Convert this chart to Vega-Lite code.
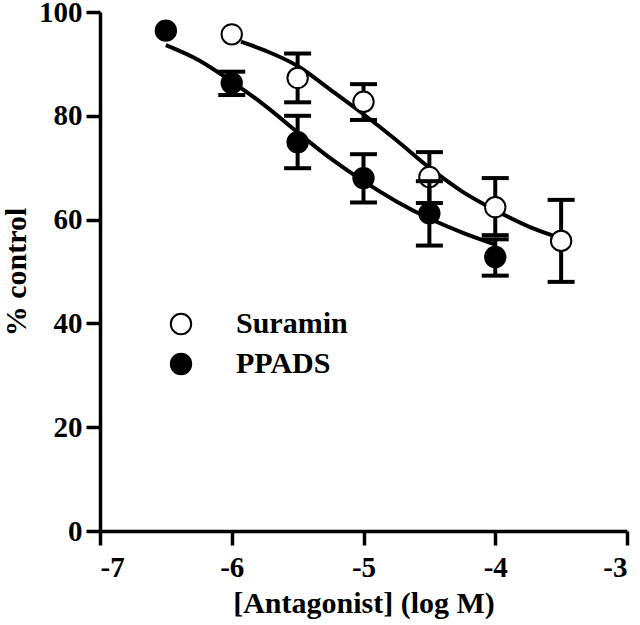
{
  "$schema": "https://vega.github.io/schema/vega-lite/v6.json",
  "width": 527,
  "height": 519,
  "autosize": "none",
  "padding": {"left": 100, "top": 12, "right": 13, "bottom": 94},
  "background": "white",
  "config": {
    "view": {"stroke": null},
    "font": "Liberation Serif",
    "axis": {
      "domainColor": "black", "domainWidth": 3.5, "tickColor": "black", "tickWidth": 3.5, "tickSize": 14,
      "labelFont": "Liberation Serif", "labelFontWeight": "bold", "labelFontSize": 29, "labelColor": "black",
      "titleFont": "Liberation Serif", "titleFontWeight": "bold", "titleFontSize": 30, "titleColor": "black",
      "grid": false
    },
    "legend": {
      "labelFont": "Liberation Serif", "labelFontWeight": "bold", "labelFontSize": 30, "labelColor": "black",
      "symbolType": "circle", "symbolSize": 415, "symbolStrokeColor": "black", "symbolStrokeWidth": 2,
      "padding": 0, "rowPadding": 10, "labelOffset": 40
    }
  },
  "datasets": {
    "pts": [
      {"conc": -6.0, "resp": 95.7, "lo": null, "hi": null, "series": "Suramin"},
      {"conc": -5.5, "resp": 87.3, "lo": 82.6, "hi": 92.0, "series": "Suramin"},
      {"conc": -5.0, "resp": 82.7, "lo": 79.2, "hi": 86.1, "series": "Suramin"},
      {"conc": -4.5, "resp": 68.2, "lo": 63.2, "hi": 73.0, "series": "Suramin"},
      {"conc": -4.0, "resp": 62.4, "lo": 57.0, "hi": 68.0, "series": "Suramin"},
      {"conc": -3.5, "resp": 55.9, "lo": 48.0, "hi": 63.8, "series": "Suramin"},
      {"conc": -6.5, "resp": 96.4, "lo": null, "hi": null, "series": "PPADS"},
      {"conc": -6.0, "resp": 86.3, "lo": 84.0, "hi": 88.5, "series": "PPADS"},
      {"conc": -5.5, "resp": 74.9, "lo": 69.9, "hi": 80.0, "series": "PPADS"},
      {"conc": -5.0, "resp": 68.0, "lo": 63.3, "hi": 72.6, "series": "PPADS"},
      {"conc": -4.5, "resp": 61.2, "lo": 55.0, "hi": 67.4, "series": "PPADS"},
      {"conc": -4.0, "resp": 52.8, "lo": 49.2, "hi": 56.2, "series": "PPADS"}
    ],
    "curves": [
      {"conc": -5.93, "resp": 94.3, "series": "Suramin"},
      {"conc": -5.75, "resp": 92.6, "series": "Suramin"},
      {"conc": -5.5, "resp": 89.6, "series": "Suramin"},
      {"conc": -5.25, "resp": 85.0, "series": "Suramin"},
      {"conc": -5.0, "resp": 80.3, "series": "Suramin"},
      {"conc": -4.75, "resp": 75.3, "series": "Suramin"},
      {"conc": -4.5, "resp": 70.0, "series": "Suramin"},
      {"conc": -4.25, "resp": 65.4, "series": "Suramin"},
      {"conc": -4.0, "resp": 61.8, "series": "Suramin"},
      {"conc": -3.75, "resp": 58.7, "series": "Suramin"},
      {"conc": -3.55, "resp": 56.8, "series": "Suramin"},
      {"conc": -6.5, "resp": 93.6, "series": "PPADS"},
      {"conc": -6.25, "resp": 90.7, "series": "PPADS"},
      {"conc": -6.0, "resp": 86.6, "series": "PPADS"},
      {"conc": -5.75, "resp": 82.0, "series": "PPADS"},
      {"conc": -5.5, "resp": 76.8, "series": "PPADS"},
      {"conc": -5.25, "resp": 71.8, "series": "PPADS"},
      {"conc": -5.0, "resp": 67.4, "series": "PPADS"},
      {"conc": -4.75, "resp": 63.5, "series": "PPADS"},
      {"conc": -4.5, "resp": 60.2, "series": "PPADS"},
      {"conc": -4.25, "resp": 57.5, "series": "PPADS"},
      {"conc": -4.0, "resp": 55.2, "series": "PPADS"}
    ]
  },
  "encoding": {
    "x": {"field": "conc", "type": "quantitative",
      "scale": {"domain": [-7, -3], "nice": false, "zero": false},
      "axis": {"values": [-7, -6, -5, -4, -3], "title": "[Antagonist] (log M)", "labelPadding": 8, "titlePadding": 6,
        "labelExpr": "replace(datum.label, '\u2212', '-')"}},
    "y": {"field": "resp", "type": "quantitative",
      "scale": {"domain": [0, 100], "nice": false},
      "axis": {"values": [0, 20, 40, 60, 80, 100], "title": "% control", "labelPadding": 4, "titlePadding": 7}}
  },
  "layer": [
    {
      "data": {"name": "curves"},
      "mark": {"type": "line", "color": "black", "strokeWidth": 4, "interpolate": "monotone"},
      "encoding": {"detail": {"field": "series"}}
    },
    {
      "data": {"name": "pts"},
      "transform": [{"filter": "datum.series === 'Suramin' && datum.lo != null"}],
      "mark": {"type": "errorbar", "ticks": {"color": "black", "opacity": 1}, "rule": {"color": "black", "opacity": 1}, "thickness": 4, "size": 27, "color": "black", "opacity": 1},
      "encoding": {"y": {"field": "lo", "type": "quantitative"}, "y2": {"field": "hi"}}
    },
    {
      "data": {"name": "pts"},
      "transform": [{"filter": "datum.series === 'Suramin'"}],
      "mark": {"type": "point", "shape": "circle", "size": 415, "stroke": "black", "strokeWidth": 2, "opacity": 1, "filled": true},
      "encoding": {"fill": {"field": "series", "type": "nominal", "scale": {"domain": ["Suramin", "PPADS"], "range": ["white", "black"]},
        "legend": {"title": null, "orient": "none", "legendX": 66, "legendY": 297}}}
    },
    {
      "data": {"name": "pts"},
      "transform": [{"filter": "datum.series === 'PPADS' && datum.lo != null"}],
      "mark": {"type": "errorbar", "ticks": {"color": "black", "opacity": 1}, "rule": {"color": "black", "opacity": 1}, "thickness": 4, "size": 27, "color": "black", "opacity": 1},
      "encoding": {"y": {"field": "lo", "type": "quantitative"}, "y2": {"field": "hi"}}
    },
    {
      "data": {"name": "pts"},
      "transform": [{"filter": "datum.series === 'PPADS'"}],
      "mark": {"type": "point", "shape": "circle", "size": 415, "stroke": "black", "strokeWidth": 2, "opacity": 1, "filled": true},
      "encoding": {"fill": {"field": "series", "type": "nominal"}}
    }
  ]
}
